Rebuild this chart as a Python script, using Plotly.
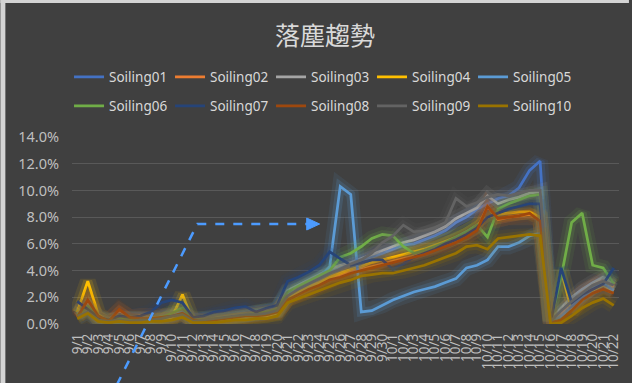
import plotly.graph_objects as go

dates = [f"9/{d}" for d in range(1, 31)] + [f"10/{d}" for d in range(1, 23)]

names = ["Soiling01", "Soiling02", "Soiling03", "Soiling04", "Soiling05",
         "Soiling06", "Soiling07", "Soiling08", "Soiling09", "Soiling10"]
colors = ["#4472C4", "#ED7D31", "#A5A5A5", "#FFC000", "#5B9BD5",
          "#70AD47", "#264478", "#9E480E", "#636363", "#997300"]

soiling01 = [0.8,1.5,0.5,0.2,0.4,0.3,0.3,0.3,0.4,0.6,0.7,0.2,0.3,0.4,0.5,0.6,0.7,0.8,0.8,1.0,
             2.3,2.8,3.2,3.6,4.0,4.3,4.6,4.8,5.0,5.3,5.6,5.9,6.0,6.3,6.6,7.0,7.6,8.0,8.6,9.0,9.4,9.6,10.2,11.5,12.2,
             0.2,0.8,1.4,2.0,2.6,3.0,2.6]
soiling02 = [0.6,1.6,0.4,0.3,1.0,0.5,0.6,0.5,0.5,0.6,0.8,0.3,0.2,0.3,0.4,0.5,0.6,0.7,0.7,0.9,
             1.9,2.3,2.7,3.0,3.4,3.6,3.9,4.1,4.3,4.5,4.7,4.9,5.1,5.3,5.6,5.9,6.2,6.6,7.1,8.8,7.8,8.0,8.1,8.2,8.0,
             0.1,0.7,1.5,2.4,3.0,3.3,2.8]
soiling03 = [0.9,1.2,0.4,0.2,0.4,0.3,0.4,0.4,0.5,0.7,0.9,0.3,0.3,0.4,0.5,0.6,0.7,0.8,0.9,1.1,
             2.5,2.9,3.3,3.7,4.1,4.4,4.6,4.9,5.2,5.5,5.8,6.1,6.3,6.6,6.9,7.3,7.9,8.3,8.7,9.6,9.0,9.3,9.5,9.8,9.9,
             0.3,1.2,2.0,2.6,3.1,3.5,3.0]
soiling04 = [0.9,3.2,0.7,0.2,0.3,0.2,0.2,0.2,0.3,0.5,2.2,0.2,0.1,0.2,0.3,0.4,0.5,0.6,0.6,0.8,
             2.0,2.4,2.8,3.1,3.5,3.8,4.1,4.3,4.6,4.8,5.0,5.2,5.4,5.6,5.9,6.2,6.5,6.9,7.4,8.0,8.2,8.3,8.4,8.4,8.0,
             0.2,4.0,1.0,1.8,2.5,2.9,2.5]
soiling05 = [0.5,1.0,0.3,0.1,0.3,0.2,0.2,0.3,0.4,0.6,0.9,0.2,0.2,0.3,0.4,0.5,0.6,0.7,0.8,1.0,
             2.2,2.7,3.1,3.5,4.3,10.3,9.7,0.9,1.0,1.4,1.8,2.1,2.4,2.6,2.8,3.1,3.4,4.2,4.4,4.8,5.8,5.8,6.1,6.6,6.8,
             0.1,0.6,1.3,2.0,2.6,3.0,2.5]
soiling06 = [0.7,1.3,0.5,0.2,0.4,0.3,0.3,0.4,0.5,0.8,1.2,0.3,0.3,0.4,0.5,0.6,0.7,0.8,0.9,1.1,
             2.4,2.8,3.2,3.6,4.0,5.0,5.3,5.8,6.4,6.7,6.6,5.8,5.3,5.5,5.8,6.1,6.5,6.9,7.4,6.5,8.6,9.0,9.3,9.6,9.7,
             0.3,3.5,7.6,8.3,4.4,4.2,3.0]
soiling07 = [1.7,1.1,0.5,0.3,0.6,0.5,0.6,0.9,1.6,1.8,1.6,0.5,0.6,0.9,1.0,1.2,1.3,0.9,1.2,1.4,
             3.2,3.5,3.9,4.4,5.4,4.9,4.4,4.6,4.8,4.8,4.1,4.5,5.0,5.3,5.6,6.0,6.3,6.7,7.2,8.0,8.3,8.6,8.8,9.0,9.0,
             0.1,4.2,1.6,2.2,2.6,3.0,4.2]
soiling08 = [0.5,1.8,0.6,0.2,1.1,0.5,0.4,0.4,0.5,0.6,0.8,0.3,0.2,0.3,0.4,0.5,0.6,0.6,0.7,0.9,
             1.8,2.2,2.6,2.9,3.3,3.5,3.8,4.0,4.2,4.4,4.6,4.8,5.0,5.2,5.5,5.8,6.1,6.5,7.0,8.8,7.9,8.0,8.1,8.3,7.7,
             0.1,0.3,1.0,1.8,2.3,2.6,2.3]
soiling09 = [0.6,0.9,0.3,0.2,0.3,0.2,0.3,0.3,0.4,0.6,0.7,0.2,0.3,0.4,0.5,0.6,0.7,0.7,0.8,1.0,
             2.1,2.6,3.0,3.4,3.8,4.1,4.5,4.8,5.3,6.1,6.6,7.4,6.9,7.0,7.2,7.6,9.4,8.8,9.1,9.5,9.7,9.6,9.8,10.0,10.0,
             0.2,1.0,1.7,2.3,2.9,3.2,2.9]
soiling10 = [0.4,0.8,0.2,0.1,0.2,0.1,0.1,0.2,0.2,0.3,0.5,0.1,0.1,0.1,0.2,0.3,0.3,0.4,0.4,0.6,
             1.6,1.9,2.2,2.5,2.8,3.1,3.3,3.6,3.7,3.8,3.8,4.0,4.2,4.4,4.7,5.0,5.3,5.8,5.9,5.6,6.4,6.5,6.6,6.7,6.6,
             0.0,0.1,0.6,1.2,1.6,1.9,1.4]

series = [soiling01, soiling02, soiling03, soiling04, soiling05,
          soiling06, soiling07, soiling08, soiling09, soiling10]

W, H = 632, 383
L, R, T, B = 72, 10, 137, 59
PW, PH = W - L - R, H - T - B


def px(x):
    return (x - L) / PW


def py(y):
    return (H - B - y) / PH


def rgba(hexc, a):
    h = hexc.lstrip("#")
    return f"rgba({int(h[0:2],16)},{int(h[2:4],16)},{int(h[4:6],16)},{a})"


fig = go.Figure()
for i, (nm, col, vals) in enumerate(zip(names, colors, series)):
    yv = [v / 100 for v in vals]
    for w, a in [(16, 0.10), (9, 0.18)]:
        fig.add_trace(go.Scatter(x=dates, y=yv, mode="lines", showlegend=False,
                                 hoverinfo="skip",
                                 line=dict(color=rgba(col, a), width=w, shape="linear")))
    fig.add_trace(go.Scatter(x=dates, y=yv, mode="lines", name=nm,
                             legend="legend" if i < 5 else "legend2",
                             line=dict(color=col, width=2.75)))

legend_common = dict(orientation="h", xanchor="left", yanchor="middle",
                     font=dict(family="Noto Sans, sans-serif", size=13.5, color="#d9d9d9"),
                     bgcolor="rgba(0,0,0,0)", entrywidth=56, itemwidth=30)

arrow_col = "#4C9BFF"
fig.update_layout(
    width=W, height=H,
    margin=dict(l=L, r=R, t=T, b=B),
    paper_bgcolor="#404040", plot_bgcolor="#404040",
    title=dict(text="落塵趨勢", x=325 / W, xanchor="center", y=1 - 36 / H, yanchor="middle",
               font=dict(family="Noto Sans CJK TC", size=25, color="#d9d9d9")),
    legend=dict(x=px(69), y=py(77), **legend_common),
    legend2=dict(x=px(69), y=py(106), **legend_common),
    xaxis=dict(type="category", range=[-0.5, len(dates) - 0.5], tickmode="linear", dtick=1,
               tickangle=-90, showgrid=False, zeroline=False, showline=False,
               ticklabelstandoff=6,
               tickfont=dict(family="Noto Sans, sans-serif", size=13.5, color="#bfbfbf")),
    yaxis=dict(range=[0, 0.14], dtick=0.02, tickformat=".1%", gridcolor="#595959",
               gridwidth=1, zeroline=False, showline=False, ticks="",
               ticklabelstandoff=12,
               tickfont=dict(family="Noto Sans, sans-serif", size=14.5, color="#bfbfbf")),
    shapes=[
        dict(type="path", xref="paper", yref="paper",
             path=f"M {px(117)},{py(385)} L {px(198)},{py(224)} L {px(310)},{py(224)}",
             line=dict(color=arrow_col, width=2.5, dash="dash")),
        dict(type="path", xref="paper", yref="paper",
             path=f"M {px(308)},{py(218)} L {px(321)},{py(224)} L {px(308)},{py(230)} Z",
             fillcolor=arrow_col, line=dict(color=arrow_col, width=1)),
        dict(type="rect", xref="paper", yref="paper", x0=px(0), x1=px(5), y0=py(383), y1=py(0),
             fillcolor="#d4d4d4", line=dict(width=0)),
        dict(type="rect", xref="paper", yref="paper", x0=px(0), x1=px(632), y0=py(3), y1=py(0),
             fillcolor="#d4d4d4", line=dict(width=0)),
    ],
)

fig.write_html("out.html")
